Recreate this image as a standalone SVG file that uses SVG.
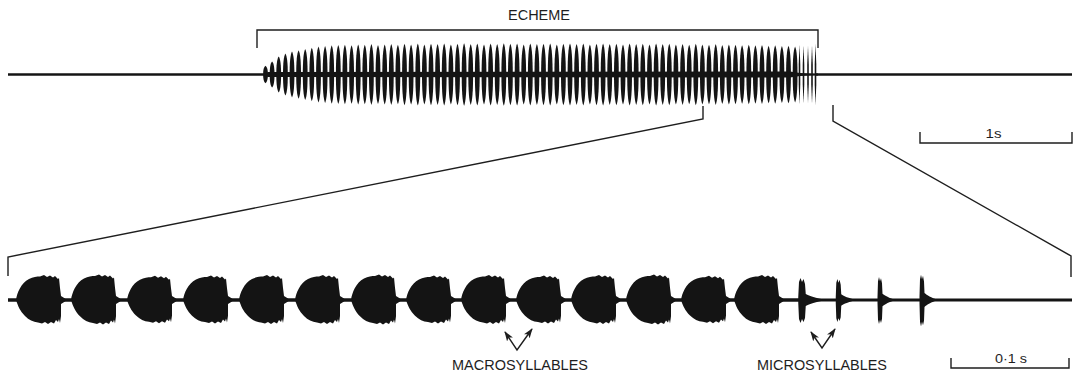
<svg xmlns="http://www.w3.org/2000/svg" xmlns:xlink="http://www.w3.org/1999/xlink" width="1080" height="376" viewBox="0 0 1080 376">
<style>
.wave{fill:#141414}
.base{stroke:#141414;fill:none}
.conn{stroke:#1e1e1e;fill:none;stroke-width:1.4;stroke-linejoin:miter}
text{font-family:"Liberation Sans",Arial,sans-serif;fill:#1e1e1e;text-anchor:middle}
</style>
<defs>
<path id="sp" d="M0,-31 C1.7,-27 2.4,-16 2.4,0 C2.4,16 1.7,27 0,31 C-1.7,27 -2.4,16 -2.4,0 C-2.4,-16 -1.7,-27 0,-31Z"/>
<path id="tsp" d="M0,-30 L0.8,-10 L0.8,10 L0,30 L-0.8,10 L-0.8,-10Z"/>
<path id="blob" d="M-44,0 C-43,-7 -39,-17 -31,-21 C-27,-23 -23,-23.5 -20,-23.5 L-16,-25 L-13,-23 L-10,-24.5 L-7,-22.5 L-5,-24 L-2,-21 L-1,-22 L0,-12 L1,-4 L5,-1.5 L6,0 L5,1.5 L1,4 L1,16 L0,23 L-1,19 L-2,22 L-4,20 L-6,23.5 L-9,22 L-12,24 L-15,22 L-18,23.5 L-22,22.5 C-27,22 -31,20 -35,16 C-40,11 -42,6 -44,0Z"/>
<path id="mic" d="M-2.5,-3 L-2,-18 L-1,-22 L0,-18 L1,-21 L2,-16 L2.5,-6 C5,-4 9,-2 16,0 C9,2 5,4 2.5,6 L2,18 L1,22 L0,19 L-1,23 L-2,19 L-2.5,3Z"/>
<marker id="ah" viewBox="0 0 10 8" refX="9" refY="4" markerWidth="10" markerHeight="8" orient="auto-start-reverse" markerUnits="userSpaceOnUse">
<path d="M0,0.5 L10,4 L0,7.5 L2.5,4Z" fill="#1e1e1e"/>
</marker>
</defs>

<g id="top-trace">
<line class="base" x1="8" y1="74.5" x2="264" y2="74.5" stroke-width="2.6"/>
<line class="base" x1="816" y1="74.5" x2="1072" y2="74.5" stroke-width="2.4"/>
<path class="wave" d="M262,74.5 L268,72 L790,71.5 L800,73 L818,73.5 L818,75.5 L800,76 L790,77.5 L268,77Z"/>
<g class="wave">
<use xlink:href="#sp" transform="translate(265.5 74.5) scale(1 0.28)"/>
<use xlink:href="#sp" transform="translate(272.1 74.5) scale(1 0.42)"/>
<use xlink:href="#sp" transform="translate(278.7 74.5) scale(1 0.58)"/>
<use xlink:href="#sp" transform="translate(285.4 74.5) scale(1 0.68)"/>
<use xlink:href="#sp" transform="translate(292.0 74.5) scale(1 0.74)"/>
<use xlink:href="#sp" transform="translate(298.6 74.5) scale(1 0.78)"/>
<use xlink:href="#sp" transform="translate(305.2 74.5) scale(1 0.82)"/>
<use xlink:href="#sp" transform="translate(311.8 74.5) scale(1 0.86)"/>
<use xlink:href="#sp" transform="translate(318.5 74.5) scale(1 0.90)"/>
<use xlink:href="#sp" transform="translate(325.1 74.5) scale(1 0.92)"/>
<use xlink:href="#sp" transform="translate(331.7 74.5) scale(1 0.94)"/>
<use xlink:href="#sp" transform="translate(338.3 74.5) scale(1 0.95)"/>
<use xlink:href="#sp" transform="translate(344.9 74.5) scale(1 0.96)"/>
<use xlink:href="#sp" transform="translate(351.6 74.5) scale(1 0.94)"/>
<use xlink:href="#sp" transform="translate(358.2 74.5) scale(1 0.97)"/>
<use xlink:href="#sp" transform="translate(364.8 74.5) scale(1 0.96)"/>
<use xlink:href="#sp" transform="translate(371.4 74.5) scale(1 0.98)"/>
<use xlink:href="#sp" transform="translate(378.0 74.5) scale(1 0.95)"/>
<use xlink:href="#sp" transform="translate(384.7 74.5) scale(1 0.97)"/>
<use xlink:href="#sp" transform="translate(391.3 74.5) scale(1 0.98)"/>
<use xlink:href="#sp" transform="translate(397.9 74.5) scale(1 0.96)"/>
<use xlink:href="#sp" transform="translate(404.5 74.5) scale(1 0.99)"/>
<use xlink:href="#sp" transform="translate(411.1 74.5) scale(1 0.97)"/>
<use xlink:href="#sp" transform="translate(417.8 74.5) scale(1 1.00)"/>
<use xlink:href="#sp" transform="translate(424.4 74.5) scale(1 0.97)"/>
<use xlink:href="#sp" transform="translate(431.0 74.5) scale(1 0.99)"/>
<use xlink:href="#sp" transform="translate(437.6 74.5) scale(1 0.98)"/>
<use xlink:href="#sp" transform="translate(444.2 74.5) scale(1 1.00)"/>
<use xlink:href="#sp" transform="translate(450.9 74.5) scale(1 0.97)"/>
<use xlink:href="#sp" transform="translate(457.5 74.5) scale(1 0.99)"/>
<use xlink:href="#sp" transform="translate(464.1 74.5) scale(1 1.01)"/>
<use xlink:href="#sp" transform="translate(470.7 74.5) scale(1 0.98)"/>
<use xlink:href="#sp" transform="translate(477.3 74.5) scale(1 1.00)"/>
<use xlink:href="#sp" transform="translate(484.0 74.5) scale(1 0.97)"/>
<use xlink:href="#sp" transform="translate(490.6 74.5) scale(1 1.00)"/>
<use xlink:href="#sp" transform="translate(497.2 74.5) scale(1 0.98)"/>
<use xlink:href="#sp" transform="translate(503.8 74.5) scale(1 1.01)"/>
<use xlink:href="#sp" transform="translate(510.4 74.5) scale(1 0.99)"/>
<use xlink:href="#sp" transform="translate(517.1 74.5) scale(1 1.00)"/>
<use xlink:href="#sp" transform="translate(523.7 74.5) scale(1 0.97)"/>
<use xlink:href="#sp" transform="translate(530.3 74.5) scale(1 1.00)"/>
<use xlink:href="#sp" transform="translate(536.9 74.5) scale(1 0.98)"/>
<use xlink:href="#sp" transform="translate(543.5 74.5) scale(1 0.99)"/>
<use xlink:href="#sp" transform="translate(550.2 74.5) scale(1 1.00)"/>
<use xlink:href="#sp" transform="translate(556.8 74.5) scale(1 0.97)"/>
<use xlink:href="#sp" transform="translate(563.4 74.5) scale(1 0.99)"/>
<use xlink:href="#sp" transform="translate(570.0 74.5) scale(1 1.00)"/>
<use xlink:href="#sp" transform="translate(576.6 74.5) scale(1 0.98)"/>
<use xlink:href="#sp" transform="translate(583.3 74.5) scale(1 1.00)"/>
<use xlink:href="#sp" transform="translate(589.9 74.5) scale(1 0.97)"/>
<use xlink:href="#sp" transform="translate(596.5 74.5) scale(1 0.99)"/>
<use xlink:href="#sp" transform="translate(603.1 74.5) scale(1 1.00)"/>
<use xlink:href="#sp" transform="translate(609.7 74.5) scale(1 0.98)"/>
<use xlink:href="#sp" transform="translate(616.4 74.5) scale(1 0.99)"/>
<use xlink:href="#sp" transform="translate(623.0 74.5) scale(1 0.97)"/>
<use xlink:href="#sp" transform="translate(629.6 74.5) scale(1 1.00)"/>
<use xlink:href="#sp" transform="translate(636.2 74.5) scale(1 0.98)"/>
<use xlink:href="#sp" transform="translate(642.8 74.5) scale(1 0.99)"/>
<use xlink:href="#sp" transform="translate(649.5 74.5) scale(1 0.97)"/>
<use xlink:href="#sp" transform="translate(656.1 74.5) scale(1 1.00)"/>
<use xlink:href="#sp" transform="translate(662.7 74.5) scale(1 0.98)"/>
<use xlink:href="#sp" transform="translate(669.3 74.5) scale(1 0.99)"/>
<use xlink:href="#sp" transform="translate(675.9 74.5) scale(1 0.97)"/>
<use xlink:href="#sp" transform="translate(682.6 74.5) scale(1 0.98)"/>
<use xlink:href="#sp" transform="translate(689.2 74.5) scale(1 0.96)"/>
<use xlink:href="#sp" transform="translate(695.8 74.5) scale(1 0.99)"/>
<use xlink:href="#sp" transform="translate(702.4 74.5) scale(1 0.97)"/>
<use xlink:href="#sp" transform="translate(709.0 74.5) scale(1 0.96)"/>
<use xlink:href="#sp" transform="translate(715.7 74.5) scale(1 0.98)"/>
<use xlink:href="#sp" transform="translate(722.3 74.5) scale(1 0.95)"/>
<use xlink:href="#sp" transform="translate(728.9 74.5) scale(1 0.97)"/>
<use xlink:href="#sp" transform="translate(735.5 74.5) scale(1 0.96)"/>
<use xlink:href="#sp" transform="translate(742.1 74.5) scale(1 0.94)"/>
<use xlink:href="#sp" transform="translate(748.8 74.5) scale(1 0.96)"/>
<use xlink:href="#sp" transform="translate(755.4 74.5) scale(1 0.94)"/>
<use xlink:href="#sp" transform="translate(762.0 74.5) scale(1 0.95)"/>
<use xlink:href="#sp" transform="translate(768.6 74.5) scale(1 0.93)"/>
<use xlink:href="#sp" transform="translate(775.2 74.5) scale(1 0.94)"/>
<use xlink:href="#sp" transform="translate(781.9 74.5) scale(1 0.92)"/>
<use xlink:href="#sp" transform="translate(788.5 74.5) scale(1 0.93)"/>
<use xlink:href="#sp" transform="translate(795.1 74.5) scale(1 0.90)"/>
<use xlink:href="#tsp" transform="translate(799.5 74.5)"/>
<use xlink:href="#tsp" transform="translate(803.5 74.5) scale(1 0.97)"/>
<use xlink:href="#tsp" transform="translate(808.0 74.5) scale(1 0.95)"/>
<use xlink:href="#tsp" transform="translate(812.0 74.5) scale(1 0.97)"/>
<use xlink:href="#tsp" transform="translate(815.5 74.5) scale(1 1.02)"/>
</g>
</g>

<g id="bottom-trace">
<line class="base" x1="8" y1="300" x2="800" y2="300" stroke-width="3.6"/>
<line class="base" x1="800" y1="300" x2="1072" y2="300" stroke-width="2.8"/>
<g class="wave">
<use xlink:href="#blob" transform="translate(60 300)"/>
<use xlink:href="#blob" transform="translate(115 300) scale(1 1.02)"/>
<use xlink:href="#blob" transform="translate(171 300) scale(1 0.97)"/>
<use xlink:href="#blob" transform="translate(227 300) scale(1 0.98)"/>
<use xlink:href="#blob" transform="translate(283 300) scale(1 1.0)"/>
<use xlink:href="#blob" transform="translate(339 300) scale(1 1.0)"/>
<use xlink:href="#blob" transform="translate(395 300) scale(1 1.02)"/>
<use xlink:href="#blob" transform="translate(450 300) scale(1 0.98)"/>
<use xlink:href="#blob" transform="translate(505 300) scale(1 1.0)"/>
<use xlink:href="#blob" transform="translate(560 300) scale(1 0.98)"/>
<use xlink:href="#blob" transform="translate(615 300) scale(1 1.0)"/>
<use xlink:href="#blob" transform="translate(670 300) scale(1 1.02)"/>
<use xlink:href="#blob" transform="translate(725 300) scale(1 0.97)"/>
<use xlink:href="#blob" transform="translate(778 300) scale(1 1.0)"/>
<use xlink:href="#mic" transform="translate(802 300) scale(1.5 1.0)"/>
<use xlink:href="#mic" transform="translate(838.5 300) scale(1.1 0.96)"/>
<use xlink:href="#mic" transform="translate(880 300) scale(1 1.04)"/>
<use xlink:href="#mic" transform="translate(922 300) scale(1 1.15)"/>
</g>
</g>

<g id="connectors">
<polyline class="conn" points="257,48 257,30 818,30 818,48"/>
<polyline class="conn" points="703,106 703,119 8,257 8,276"/>
<polyline class="conn" points="833,105 833,121 1071,256 1071,277"/>
<polyline class="conn" points="920,132 920,143 1072,143 1072,132"/>
<polyline class="conn" points="951,358 951,368 1069,368 1069,358"/>
<polyline class="conn" points="505,332 517,350 532,329" marker-start="url(#ah)" marker-end="url(#ah)"/>
<polyline class="conn" points="811,332 822,348 835,329" marker-start="url(#ah)" marker-end="url(#ah)"/>
</g>

<g id="labels">
<text x="539" y="20" font-size="15" textLength="62" lengthAdjust="spacingAndGlyphs">ECHEME</text>
<text x="993.5" y="138" font-size="13" textLength="16" lengthAdjust="spacingAndGlyphs">1s</text>
<text x="1011" y="363" font-size="13" textLength="32" lengthAdjust="spacingAndGlyphs">0·1 s</text>
<text x="520" y="370" font-size="14.5" textLength="136" lengthAdjust="spacingAndGlyphs">MACROSYLLABLES</text>
<text x="822" y="370" font-size="14.5" textLength="130" lengthAdjust="spacingAndGlyphs">MICROSYLLABLES</text>
</g>
</svg>
